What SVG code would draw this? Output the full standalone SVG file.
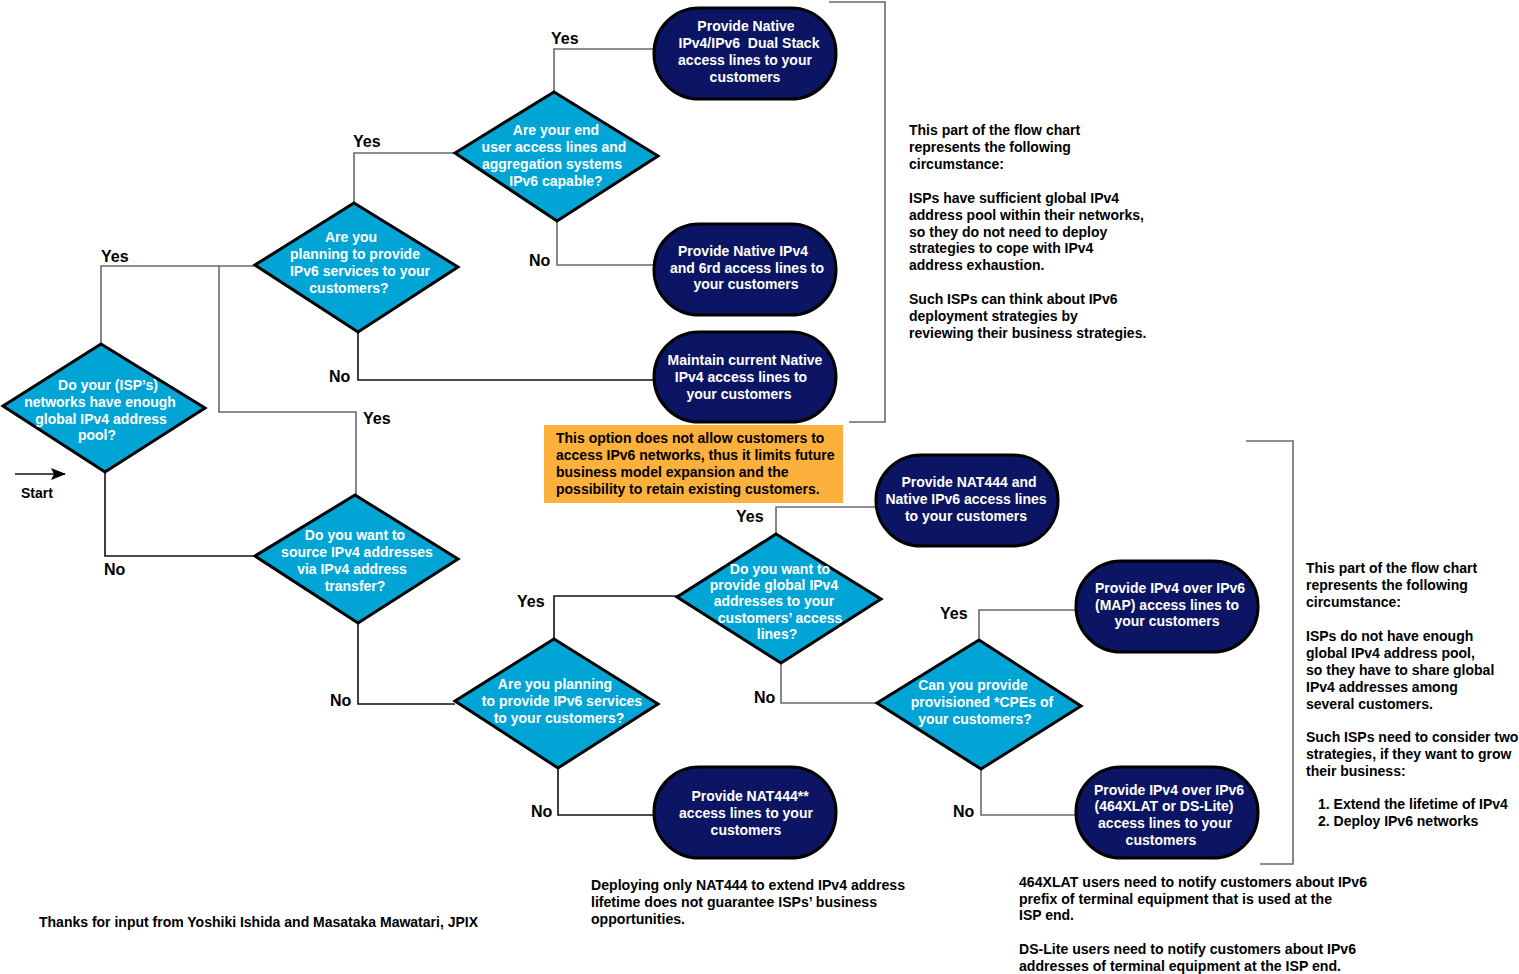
<svg xmlns="http://www.w3.org/2000/svg" width="1519" height="974" viewBox="0 0 1519 974">
<style>
.dia{fill:#00A5D6;stroke:#000;stroke-width:3;stroke-linejoin:miter}
.pill{fill:#0B1563;stroke:#000;stroke-width:3}
.wt{font-family:"Liberation Sans",Arial,sans-serif;font-weight:bold;font-size:14px;fill:#fff;text-anchor:middle}
.bt{font-family:"Liberation Sans",Arial,sans-serif;font-weight:bold;font-size:14px;fill:#000}
.lbl{font-family:"Liberation Sans",Arial,sans-serif;font-weight:bold;font-size:16px;fill:#000}
.cg{fill:none;stroke:#6a6a6a;stroke-width:1.6}
.ck{fill:none;stroke:#111;stroke-width:1.6}
</style>
<defs>
<marker id="arr" markerWidth="15" markerHeight="12" refX="14" refY="6" orient="auto" markerUnits="userSpaceOnUse">
<path d="M0,0 L15,6 L0,12 L3,6 Z" fill="#000"/>
</marker>
</defs>
<rect width="1519" height="974" fill="#fff"/>

<g id="connectors">
<polyline class="cg" points="101,344 101,266 255,266"/>
<polyline class="cg" points="219,266 219,412 356,412 356,495"/>
<polyline class="ck" points="105,473 105,556 255,556"/>
<polyline class="cg" points="354,203 354,153 455,153"/>
<polyline class="ck" points="358,332 358,380 654,380"/>
<polyline class="cg" points="554,92 554,49 654,49"/>
<polyline class="cg" points="557,221 557,265 654,265"/>
<polyline class="ck" points="358,623 358,704 455,704"/>
<polyline class="ck" points="554,639 554,596 677,596"/>
<polyline class="ck" points="558,768 558,815 654,815"/>
<polyline class="cg" points="776,534 776,507 876,507"/>
<polyline class="cg" points="781,663 781,703 877,703"/>
<polyline class="cg" points="979,640 979,610 1076,610"/>
<polyline class="cg" points="981,769 981,815 1076,815"/>
<line class="ck" x1="15" y1="474" x2="65" y2="474" stroke-width="2" marker-end="url(#arr)"/>
</g>

<g id="brackets">
<polyline class="cg" points="829,2 885,2 885,422 849,422"/>
<polyline class="cg" points="1246,441 1293,441 1293,864 1260,864"/>
</g>

<g id="start"><text class="bt" x="21" y="498" font-size="13">Start</text></g>

<g id="d1">
<polygon class="dia" points="101,344 205,408 105,472 3,406"/>
<text class="wt"><tspan x="108" y="390">Do your (ISP’s)</tspan><tspan x="100" y="407">networks have enough</tspan><tspan x="101" y="424">global IPv4 address</tspan><tspan x="97" y="440">pool?</tspan></text>
</g>
<g id="d2">
<polygon class="dia" points="354,203 458,267 358,332 255,265"/>
<text class="wt"><tspan x="351" y="242">Are you</tspan><tspan x="355" y="259">planning to provide</tspan><tspan x="360" y="276">IPv6 services to your</tspan><tspan x="349" y="293">customers?</tspan></text>
</g>
<g id="d3">
<polygon class="dia" points="554,92 658,156 557,221 455,153"/>
<text class="wt"><tspan x="556" y="135">Are your end</tspan><tspan x="554" y="152">user access lines and</tspan><tspan x="552" y="169">aggregation systems</tspan><tspan x="556" y="186">IPv6 capable?</tspan></text>
</g>
<g id="d4">
<polygon class="dia" points="355,495 458,559 358,623 255,556"/>
<text class="wt"><tspan x="355" y="540">Do you want to</tspan><tspan x="357" y="557">source IPv4 addresses</tspan><tspan x="352" y="574">via IPv4 address</tspan><tspan x="355" y="591">transfer?</tspan></text>
</g>
<g id="d5">
<polygon class="dia" points="554,639 658,704 558,768 455,701"/>
<text class="wt"><tspan x="555" y="689">Are you planning</tspan><tspan x="562" y="706">to provide IPv6 services</tspan><tspan x="559" y="723">to your customers?</tspan></text>
</g>
<g id="d6">
<polygon class="dia" points="776,534 881,599 781,663 677,597"/>
<text class="wt"><tspan x="780" y="574">Do you want to</tspan><tspan x="774" y="590">provide global IPv4</tspan><tspan x="774" y="606">addresses to your</tspan><tspan x="780" y="623">customers’ access</tspan><tspan x="777" y="639">lines?</tspan></text>
</g>
<g id="d7">
<polygon class="dia" points="979,640 1081,706 981,769 877,703"/>
<text class="wt"><tspan x="973" y="690">Can you provide</tspan><tspan x="982" y="707">provisioned *CPEs of</tspan><tspan x="975" y="724">your customers?</tspan></text>
</g>

<g id="p1">
<rect class="pill" x="654" y="8" width="182" height="91" rx="45" ry="45"/>
<text class="wt"><tspan x="746" y="31">Provide Native</tspan><tspan x="749" y="48">IPv4/IPv6&#160; Dual Stack</tspan><tspan x="745" y="65">access lines to your</tspan><tspan x="745" y="82">customers</tspan></text>
</g>
<g id="p2">
<rect class="pill" x="654" y="224" width="182" height="91" rx="45" ry="45"/>
<text class="wt"><tspan x="743" y="256">Provide Native IPv4</tspan><tspan x="747" y="273">and 6rd access lines to</tspan><tspan x="746" y="289">your customers</tspan></text>
</g>
<g id="p3">
<rect class="pill" x="654" y="332" width="182" height="90" rx="45" ry="45"/>
<text class="wt"><tspan x="745" y="365">Maintain current Native</tspan><tspan x="741" y="382">IPv4 access lines to</tspan><tspan x="739" y="399">your customers</tspan></text>
</g>
<g id="p4">
<rect class="pill" x="876" y="455" width="182" height="91" rx="45" ry="45"/>
<text class="wt"><tspan x="969" y="487">Provide NAT444 and</tspan><tspan x="966" y="504">Native IPv6 access lines</tspan><tspan x="966" y="521">to your customers</tspan></text>
</g>
<g id="p5">
<rect class="pill" x="1076" y="561" width="182" height="91" rx="45" ry="45"/>
<text class="wt"><tspan x="1170" y="593">Provide IPv4 over IPv6</tspan><tspan x="1167" y="610">(MAP) access lines to</tspan><tspan x="1167" y="626">your customers</tspan></text>
</g>
<g id="p6">
<rect class="pill" x="1076" y="767" width="182" height="91" rx="45" ry="45"/>
<text class="wt"><tspan x="1169" y="795">Provide IPv4 over IPv6</tspan><tspan x="1164" y="811">(464XLAT or DS-Lite)</tspan><tspan x="1165" y="828">access lines to your</tspan><tspan x="1161" y="845">customers</tspan></text>
</g>
<g id="p7">
<rect class="pill" x="654" y="767" width="182" height="91" rx="45" ry="45"/>
<text class="wt"><tspan x="750" y="801">Provide NAT444**</tspan><tspan x="746" y="818">access lines to your</tspan><tspan x="746" y="835">customers</tspan></text>
</g>

<g id="labels">
<text class="lbl" x="551" y="44">Yes</text>
<text class="lbl" x="353" y="147">Yes</text>
<text class="lbl" x="101" y="262">Yes</text>
<text class="lbl" x="529" y="266">No</text>
<text class="lbl" x="329" y="382">No</text>
<text class="lbl" x="363" y="424">Yes</text>
<text class="lbl" x="104" y="575">No</text>
<text class="lbl" x="736" y="522">Yes</text>
<text class="lbl" x="517" y="607">Yes</text>
<text class="lbl" x="330" y="706">No</text>
<text class="lbl" x="754" y="703">No</text>
<text class="lbl" x="940" y="619">Yes</text>
<text class="lbl" x="531" y="817">No</text>
<text class="lbl" x="953" y="817">No</text>
</g>

<g id="warning">
<rect x="544" y="425" width="299" height="78" fill="#FDB03B"/>
<text class="bt"><tspan x="556" y="443">This option does not allow customers to</tspan><tspan x="556" y="460">access IPv6 networks, thus it limits future</tspan><tspan x="556" y="477">business model expansion and the</tspan><tspan x="556" y="494">possibility to retain existing customers.</tspan></text>
</g>

<g id="note-top">
<text class="bt"><tspan x="909" y="135">This part of the flow chart</tspan><tspan x="909" y="152">represents the following</tspan><tspan x="909" y="169">circumstance:</tspan><tspan x="909" y="203">ISPs have sufficient global IPv4</tspan><tspan x="909" y="220">address pool within their networks,</tspan><tspan x="909" y="237">so they do not need to deploy</tspan><tspan x="909" y="253">strategies to cope with IPv4</tspan><tspan x="909" y="270">address exhaustion.</tspan><tspan x="909" y="304">Such ISPs can think about IPv6</tspan><tspan x="909" y="321">deployment strategies by</tspan><tspan x="909" y="338">reviewing their business strategies.</tspan></text>
</g>

<g id="note-bottom">
<text class="bt"><tspan x="1306" y="573">This part of the flow chart</tspan><tspan x="1306" y="590">represents the following</tspan><tspan x="1306" y="607">circumstance:</tspan><tspan x="1306" y="641">ISPs do not have enough</tspan><tspan x="1306" y="658">global IPv4 address pool,</tspan><tspan x="1306" y="675">so they have to share global</tspan><tspan x="1306" y="692">IPv4 addresses among</tspan><tspan x="1306" y="709">several customers.</tspan><tspan x="1306" y="742">Such ISPs need to consider two</tspan><tspan x="1306" y="759">strategies, if they want to grow</tspan><tspan x="1306" y="776">their business:</tspan><tspan x="1318" y="809">1. Extend the lifetime of IPv4</tspan><tspan x="1318" y="826">2. Deploy IPv6 networks</tspan></text>
</g>

<g id="note-nat444">
<text class="bt"><tspan x="591" y="890" textLength="314" lengthAdjust="spacingAndGlyphs">Deploying only NAT444 to extend IPv4 address</tspan><tspan x="591" y="907" textLength="286" lengthAdjust="spacingAndGlyphs">lifetime does not guarantee ISPs’ business</tspan><tspan x="591" y="924" textLength="94" lengthAdjust="spacingAndGlyphs">opportunities.</tspan></text>
</g>

<g id="note-464">
<text class="bt"><tspan x="1019" y="887" textLength="348" lengthAdjust="spacingAndGlyphs">464XLAT users need to notify customers about IPv6</tspan><tspan x="1019" y="904" textLength="313" lengthAdjust="spacingAndGlyphs">prefix of terminal equipment that is used at the</tspan><tspan x="1019" y="920" textLength="55" lengthAdjust="spacingAndGlyphs">ISP end.</tspan><tspan x="1019" y="954" textLength="337" lengthAdjust="spacingAndGlyphs">DS-Lite users need to notify customers about IPv6</tspan><tspan x="1019" y="971" textLength="322" lengthAdjust="spacingAndGlyphs">addresses of terminal equipment at the ISP end.</tspan></text>
</g>

<g id="thanks">
<text class="bt" x="39" y="927" font-size="13">Thanks for input from Yoshiki Ishida and Masataka Mawatari, JPIX</text>
</g>
</svg>
